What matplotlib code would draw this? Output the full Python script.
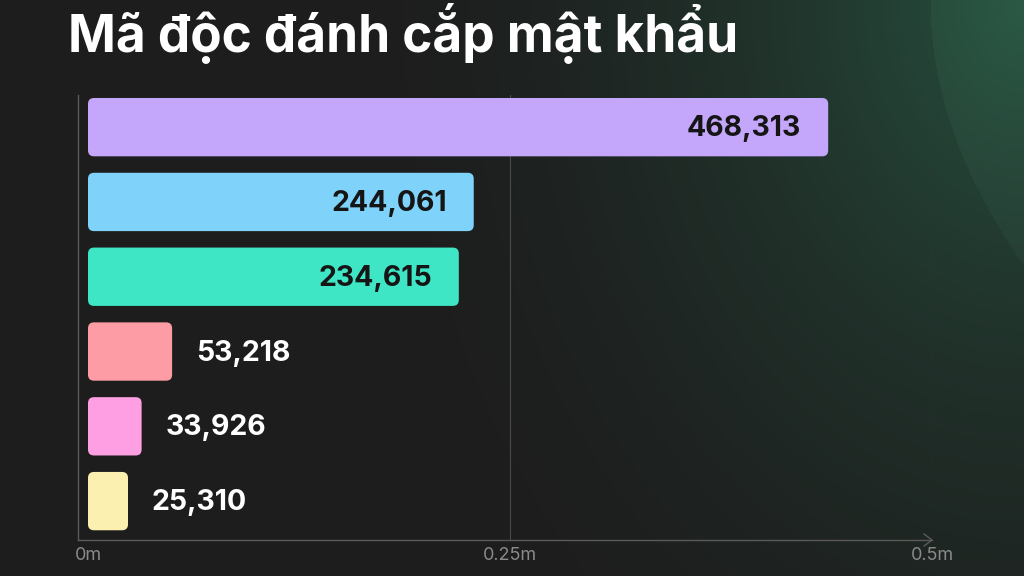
import matplotlib
matplotlib.use("Agg")
import matplotlib.pyplot as plt
import numpy as np
from matplotlib.patches import FancyBboxPatch

values = [468313, 244061, 234615, 53218, 33926, 25310]
labels = ["468,313", "244,061", "234,615", "53,218", "33,926", "25,310"]
colors = ["#c4a6fb", "#7fd3fb", "#3ee6c6", "#fe9ca5", "#fd9fe2", "#fcf0b1"]
tick_labels = ["0m", "0.25m", "0.5m"]
title = "Mã độc đánh cắp mật khẩu"

plt.rcParams['font.family'] = ['Inter', 'DejaVu Sans']
fig = plt.figure(figsize=(10.24, 5.76), dpi=100)
bg = fig.add_axes([0, 0, 1, 1])
yy, xx = np.mgrid[0:576, 0:1024]
d = np.sqrt(((xx - 1024) / 1.0) ** 2 + ((yy - 0) / 1.3) ** 2)
t = np.clip(1 - d / 700, 0, 1) ** 1.8
base = np.array([0x1d, 0x1d, 0x1d]) / 255
green = np.array([0x26, 0x50, 0x3e]) / 255
img = base + (green - base) * t[..., None]
curve = (xx > 930 + 90 * (yy / 260) ** 2) & (yy < 330)
img[curve] = img[curve] * 1.12
bg.imshow(np.clip(img, 0, 1), aspect='auto', extent=[0, 1024, 576, 0])
bg.axis('off')

xmax = 534000
ax = fig.add_axes([88 / 1024, 1 - 540 / 576, (932 - 88) / 1024, 445 / 576])
ax.set_facecolor('none')
ax.set_xlim(0, xmax)
ax.set_ylim(5.52, -0.43)
for i, (v, lab, c) in enumerate(zip(values, labels, colors)):
    h = 0.78
    p = FancyBboxPatch((0, i - h / 2), v, h,
                       boxstyle="round,pad=0,rounding_size=3800",
                       mutation_aspect=2.1e-5, fc=c, ec='none', zorder=3)
    ax.add_patch(p)
    if v > 150000:
        ax.text(v - 17000, i + 0.02, lab, ha='right', va='center',
                fontsize=20.5, fontweight='bold', color='#151515', zorder=4)
    else:
        ax.text(v + 15000, i + 0.02, lab, ha='left', va='center',
                fontsize=20.5, fontweight='bold', color='white', zorder=4)

ticks = [0, xmax / 2, xmax]
for tx in ticks[1:]:
    ax.axvline(tx, color='#4a4a4a', lw=0.8, zorder=1)
ax.set_xticks(ticks)
ax.set_xticklabels(tick_labels, color='#8a8a8a', fontsize=13)
ax.tick_params(axis='x', length=0, pad=5)
ax.set_yticks([])
for s in ['top', 'right', 'left', 'bottom']:
    ax.spines[s].set_visible(False)
bg.plot([78, 78], [95, 540], color='#5a5a5a', lw=1)
bg.plot([78, 932], [540, 540], color='#5a5a5a', lw=1)
bg.plot([924, 932, 924], [534, 540, 546], color='#5a5a5a', lw=1)
bg.set_xlim(0, 1024); bg.set_ylim(576, 0)

fig.text(68 / 1024, 1 - 33 / 576, title, fontsize=37, fontweight='bold',
         color='white', va='center', ha='left')
fig.savefig("out.png", dpi=100, facecolor='#1d1d1d')
